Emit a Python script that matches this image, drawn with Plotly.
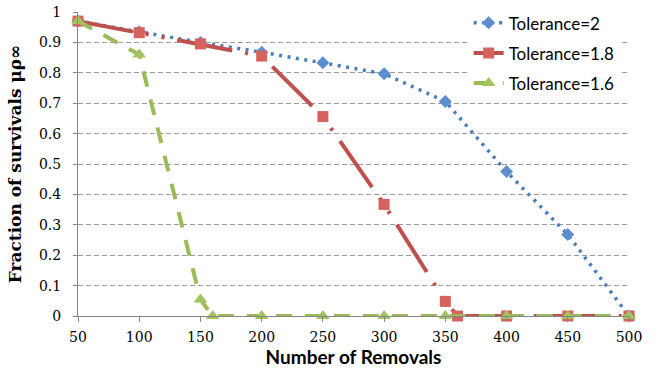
import plotly.graph_objects as go

# Data
x_tol2 = [50, 100, 150, 200, 250, 300, 350, 400, 450, 500]
y_tol2 = [0.97, 0.935, 0.90, 0.868, 0.833, 0.797, 0.706, 0.475, 0.268, 0.0]

x_tol18 = [50, 100, 150, 200, 250, 300, 350, 360, 400, 450, 500]
y_tol18 = [0.97, 0.932, 0.895, 0.855, 0.656, 0.367, 0.048, 0.0, 0.0, 0.0, 0.0]

x_tol16 = [50, 100, 150, 160, 200, 250, 300, 350, 400, 450, 500]
y_tol16 = [0.97, 0.86, 0.054, 0.0, 0.0, 0.0, 0.0, 0.0, 0.0, 0.0, 0.0]

names = ["Tolerance=2", "Tolerance=1.8", "Tolerance=1.6"]
x_ticks = [50, 100, 150, 200, 250, 300, 350, 400, 450, 500]
y_ticks = [0, 0.1, 0.2, 0.3, 0.4, 0.5, 0.6, 0.7, 0.8, 0.9, 1]

fig = go.Figure()
fig.add_trace(go.Scatter(
    x=x_tol2, y=y_tol2, name=names[0], mode="lines+markers", legendgroup="a",
    line=dict(color="#4A7EBB", width=3.5, dash="3px,5.5px"),
    marker=dict(symbol="diamond", size=10, color="#5B8FD0"),
    cliponaxis=False))
fig.add_trace(go.Scatter(
    x=x_tol18, y=y_tol18, name=names[1], mode="lines+markers", legendgroup="b",
    line=dict(color="#C0504D", width=4, dash="56px,13px,3px,13px,3px,13px"),
    marker=dict(symbol="square", size=11, color="#D6625E"),
    cliponaxis=False))
fig.add_trace(go.Scatter(
    x=x_tol16, y=y_tol16, name=names[2], mode="lines+markers", legendgroup="c",
    line=dict(color="#9BBB59", width=4, dash="16px,13px"),
    marker=dict(symbol="triangle-up", size=12, color="#A4C462"),
    cliponaxis=False))

fig.update_layout(
    width=654, height=370,
    margin=dict(l=78, r=25, t=12, b=54, autoexpand=False),
    paper_bgcolor="white", plot_bgcolor="white",
    showlegend=True,
    legend=dict(x=0.709, y=1.022, xanchor="left", yanchor="top",
                bgcolor="white", font=dict(family="Lato", size=17, color="#000"),
                traceorder="grouped", tracegroupgap=5, itemwidth=30),
    xaxis=dict(range=[50, 500], tickvals=x_ticks, ticktext=[str(v) for v in x_ticks],
               automargin=False,
               showgrid=False, zeroline=False, showline=True, linecolor="#868686", linewidth=1,
               ticks="outside", ticklen=5, tickcolor="#868686", ticklabelstandoff=3,
               tickfont=dict(family="DejaVu Serif", size=14, color="#000"),
               title=dict(text="<b>Number of Removals</b>", standoff=4,
                          font=dict(family="Lato", size=19, color="#000"))),
    yaxis=dict(range=[0, 1], tickvals=y_ticks, ticktext=[str(v) for v in y_ticks],
               automargin=False,
               showgrid=True, gridcolor="#9A9A9A", griddash="5px,3px", gridwidth=1,
               zeroline=False, showline=True, linecolor="#868686", linewidth=1,
               ticks="outside", ticklen=4, tickcolor="#868686", ticklabelstandoff=9,
               tickfont=dict(family="DejaVu Serif", size=14, color="#000"),
               title=dict(text="<b>Fraction of survivals μρ∞</b>", standoff=12,
                          font=dict(family="DejaVu Serif", size=17, color="#000"))),
)

fig.write_html("out.html")
